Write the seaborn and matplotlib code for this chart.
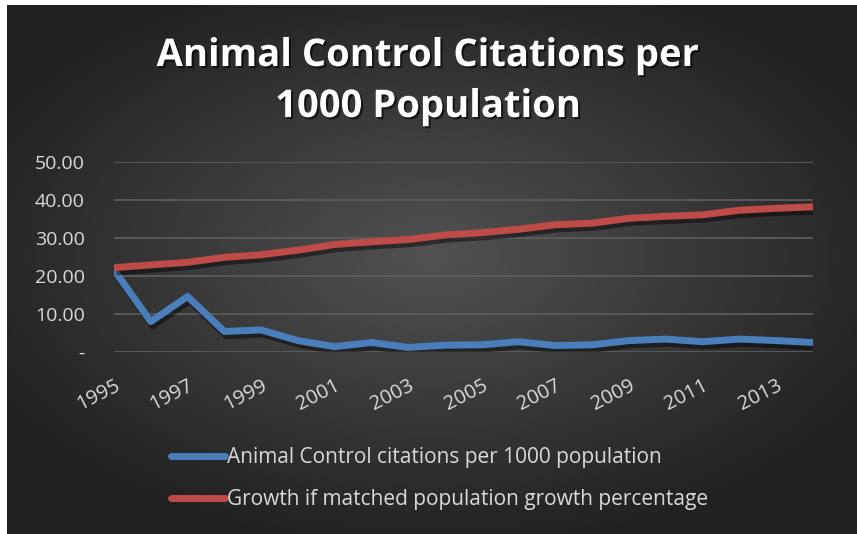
import numpy as np
import pandas as pd
import matplotlib
matplotlib.use("Agg")
import matplotlib.pyplot as plt
import matplotlib.patheffects as pe
import seaborn as sns

years = list(range(1995, 2015))
citations = [21.6, 8.0, 14.6, 5.4, 5.8, 3.0, 1.4, 2.5, 1.2, 1.8,
             1.9, 2.7, 1.7, 1.9, 3.0, 3.4, 2.7, 3.4, 3.0, 2.5]
growth = [22.2, 22.9, 23.6, 24.9, 25.6, 26.8, 28.3, 29.0, 29.6, 30.8,
          31.4, 32.3, 33.5, 33.9, 35.2, 35.7, 36.1, 37.3, 37.8, 38.2]
series_names = ["Animal Control citations per 1000 population",
                "Growth if matched population growth percentage"]
series_colors = ["#4a7ebb", "#be4b48"]
title_lines = ["Animal Control Citations per", "1000 Population"]
tick_years = list(range(1995, 2014, 2))
y_ticks = [0, 10, 20, 30, 40, 50]

data = pd.DataFrame({
    "year": years * 2,
    "value": citations + growth,
    "series": [series_names[0]] * len(years) + [series_names[1]] * len(years),
})

sns.set_theme(style="dark")
plt.rcParams['font.family'] = ['Open Sans', 'DejaVu Sans']
text_col = "#d9d9d9"

fig = plt.figure(figsize=(8.57, 5.34), dpi=100)
fig.patch.set_facecolor("white")

# radial gradient background
bg = fig.add_axes([7/857, 0, 850/857, 529/534], zorder=-10)
gx, gy = np.meshgrid(np.linspace(-1, 1, 400), np.linspace(-1, 1, 250))
r = np.sqrt((gx * 0.95) ** 2 + ((gy + 0.05) * 1.0) ** 2)
g = np.clip(0.32 - 0.17 * r, 0.13, 0.32)
bg.imshow(np.dstack([g, g, g]), aspect="auto", extent=[0, 1, 0, 1])
bg.set_axis_off()

ax = fig.add_axes([114/857, 182/534, 699/857, 190/534])
ax.patch.set_alpha(0)
shadow = [pe.SimpleLineShadow(offset=(1.5, -3), shadow_color="black", alpha=0.45), pe.Normal()]
p = sns.lineplot(data=data, x="year", y="value", hue="series", palette=series_colors,
                 linewidth=5, ax=ax, legend=True)
for line in ax.lines:
    line.set_path_effects(shadow)
    line.set_solid_capstyle("butt")

ax.set_xlim(1995, 2014)
ax.set_ylim(0, 50)
ax.set_yticks(y_ticks)
ax.set_yticklabels(["-"] + ["%.2f" % v for v in y_ticks[1:]])
ax.set_xticks(tick_years)
ax.set_xticklabels([str(y) for y in tick_years], rotation=27, ha="right", va="top",
                   rotation_mode="anchor")
ax.tick_params(axis="y", colors=text_col, labelsize=14, length=0, pad=21)
ax.tick_params(axis="x", colors=text_col, labelsize=14.5, length=0, pad=17)
ax.grid(axis="y", color="#5c5c5c", linewidth=1.3)
ax.grid(axis="x", visible=False)
ax.set_axisbelow(True)
ax.set_xlabel("")
ax.set_ylabel("")
for s in ax.spines.values():
    s.set_visible(False)

leg = ax.legend(loc="upper left", bbox_to_anchor=(161/857, 1 - 437/534),
                bbox_transform=fig.transFigure, frameon=False, fontsize=15,
                handlelength=2.55, handletextpad=0.1, labelspacing=1.0, borderpad=0)
for t in leg.get_texts():
    t.set_color(text_col)
for h in leg.get_lines():
    h.set_linewidth(5)
    h.set_solid_capstyle("round")
    h.set_path_effects([])

title_shadow = [pe.withSimplePatchShadow(offset=(1.5, -1.5), shadow_rgbFace="black", alpha=0.6)]
for txt, base in zip(title_lines, [66, 117]):
    fig.text(0.5, 1 - base/534, txt, ha="center", va="baseline", color="white",
             fontsize=27.5, fontweight="bold", path_effects=title_shadow)

fig.savefig("out.png", dpi=100)
